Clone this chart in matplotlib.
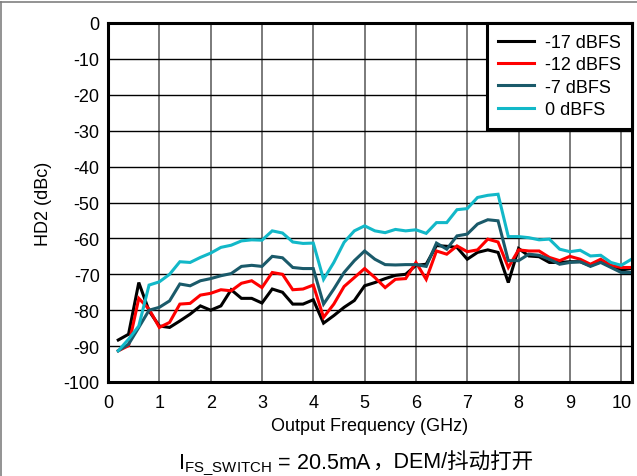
import matplotlib
matplotlib.use("Agg")
import matplotlib.pyplot as plt
from matplotlib.lines import Line2D

plt.rcParams['font.family'] = ['Liberation Sans', 'Noto Sans CJK SC', 'DejaVu Sans']
plt.rcParams['mathtext.fontset'] = 'custom'
plt.rcParams['mathtext.rm'] = 'Liberation Sans'
plt.rcParams['axes.unicode_minus'] = False

freq = [0.2, 0.4, 0.6, 0.8, 1.0, 1.2, 1.4, 1.6, 1.8, 2.0,
        2.2, 2.4, 2.6, 2.8, 3.0, 3.2, 3.4, 3.6, 3.8, 4.0,
        4.2, 4.4, 4.6, 4.8, 5.0, 5.2, 5.4, 5.6, 5.8, 6.0,
        6.2, 6.4, 6.6, 6.8, 7.0, 7.2, 7.4, 7.6, 7.8, 8.0,
        8.2, 8.4, 8.6, 8.8, 9.0, 9.2, 9.4, 9.6, 9.8, 10.0, 10.2]

hd2_m17 = [-88.3, -86.7, -72.3, -80.2, -84.4, -84.8, -83.0, -81.1, -78.8, -80.0,
           -78.8, -74.3, -76.7, -76.7, -78.0, -74.1, -75.0, -78.3, -78.3, -77.1,
           -83.6, -81.5, -79.2, -77.3, -73.2, -72.3, -71.2, -70.3, -70.0, -67.5,
           -67.2, -62.0, -62.2, -62.5, -65.8, -63.9, -63.2, -63.9, -72.3, -62.8,
           -64.9, -65.1, -66.7, -66.7, -66.5, -66.5, -67.6, -66.5, -67.8, -68.8, -68.4]

hd2_m12 = [-91.3, -89.9, -76.7, -79.7, -84.8, -83.4, -78.3, -78.1, -75.8, -75.3,
           -74.3, -74.6, -72.5, -71.8, -73.7, -69.5, -70.0, -74.3, -74.1, -73.0,
           -82.0, -78.3, -73.4, -70.9, -68.4, -70.9, -73.7, -71.4, -71.2, -66.7,
           -71.4, -63.5, -64.4, -62.1, -63.7, -63.2, -60.2, -61.0, -68.1, -63.2,
           -63.5, -63.5, -65.3, -66.2, -65.0, -65.8, -67.2, -65.8, -67.5, -68.1, -68.1]

hd2_m7 = [-91.3, -89.5, -84.8, -80.0, -79.2, -77.4, -72.7, -73.2, -71.8, -71.2,
          -70.4, -69.8, -67.8, -67.5, -67.8, -65.0, -65.4, -68.1, -68.4, -68.4,
          -78.3, -74.1, -69.5, -66.2, -63.5, -65.8, -67.3, -67.4, -67.3, -67.3,
          -67.8, -61.3, -63.0, -59.3, -58.8, -56.0, -54.8, -55.1, -66.2, -66.2,
          -64.4, -64.7, -65.8, -67.2, -66.7, -66.5, -67.8, -66.7, -68.1, -69.5, -69.5]

hd2_0 = [-91.3, -88.1, -84.4, -73.0, -72.1, -70.0, -66.5, -66.7, -65.3, -64.1,
         -62.5, -61.9, -60.7, -60.4, -60.5, -57.9, -58.5, -61.0, -61.4, -61.3,
         -71.4, -66.7, -61.1, -57.9, -56.5, -57.9, -58.4, -57.5, -57.9, -57.6,
         -58.6, -55.6, -55.6, -52.0, -51.7, -48.6, -48.0, -47.7, -59.5, -59.5,
         -59.8, -60.4, -60.2, -63.0, -63.7, -63.3, -64.9, -64.7, -66.7, -67.5, -65.8]

labels = ['-17 dBFS', '-12 dBFS', '-7 dBFS', '0 dBFS']
colors = ['#000000', '#FF0000', '#1A5A6A', '#12B8C8']
series = [hd2_m17, hd2_m12, hd2_m7, hd2_0]

xticks = [0, 1, 2, 3, 4, 5, 6, 7, 8, 9, 10]
yticks = [0, -10, -20, -30, -40, -50, -60, -70, -80, -90, -100]

W, H = 637, 477
fig = plt.figure(figsize=(W / 100, H / 100), dpi=100)
ax = fig.add_axes([108 / W, 1 - 383 / H, (632 - 108) / W, (383 - 24) / H])

for vals, lab, col in zip(series, labels, colors):
    ax.plot(freq, vals, color=col, lw=2.2, label=lab, solid_joinstyle='miter')

ax.set_xlim(0, 10.21)
ax.set_ylim(-100, 0)
ax.set_xticks(xticks)
ax.set_yticks(yticks)
ax.tick_params(length=0, labelsize=13)
ax.tick_params(axis='x', pad=9)
ax.tick_params(axis='y', pad=6)
ax.xaxis.grid(True, color='#707070', lw=1.3)
ax.yaxis.grid(True, color='#000000', lw=1.0)
ax.set_axisbelow(True)
for s in ax.spines.values():
    s.set_linewidth(2.2)
    s.set_color('black')

ax.set_xlabel('Output Frequency (GHz)', fontsize=13, labelpad=4)
ax.set_ylabel('HD2 (dBc)', fontsize=13, labelpad=8)

leg = ax.legend(loc='upper right', fontsize=13, frameon=True, fancybox=False,
                framealpha=1, edgecolor='black', borderaxespad=0.0,
                handlelength=2.0, labelspacing=0.3, borderpad=0.6, handletextpad=0.6)
leg.get_frame().set_linewidth(2.2)

# caption
fig.canvas.draw()
renderer = fig.canvas.get_renderer()
t1 = fig.text(178 / W, 1 - 469 / H, r'I$_{\mathregular{FS\_SWITCH}}$ = 20.5mA', fontsize=15.5,
              ha='left', va='baseline')
bb = t1.get_window_extent(renderer=renderer)
fig.text(bb.x1 / W, 1 - 469 / H, '，DEM/抖动打开', fontsize=15.5, ha='left', va='baseline')

# figure border lines (top and left)
fig.add_artist(Line2D([0, 1], [1 - 2.5 / H, 1 - 2.5 / H], transform=fig.transFigure, color='#808080', lw=1.2))
fig.add_artist(Line2D([1.5 / W, 1.5 / W], [0, 1 - 2.5 / H], transform=fig.transFigure, color='#808080', lw=1.2))

fig.savefig('out.png', dpi=100)
